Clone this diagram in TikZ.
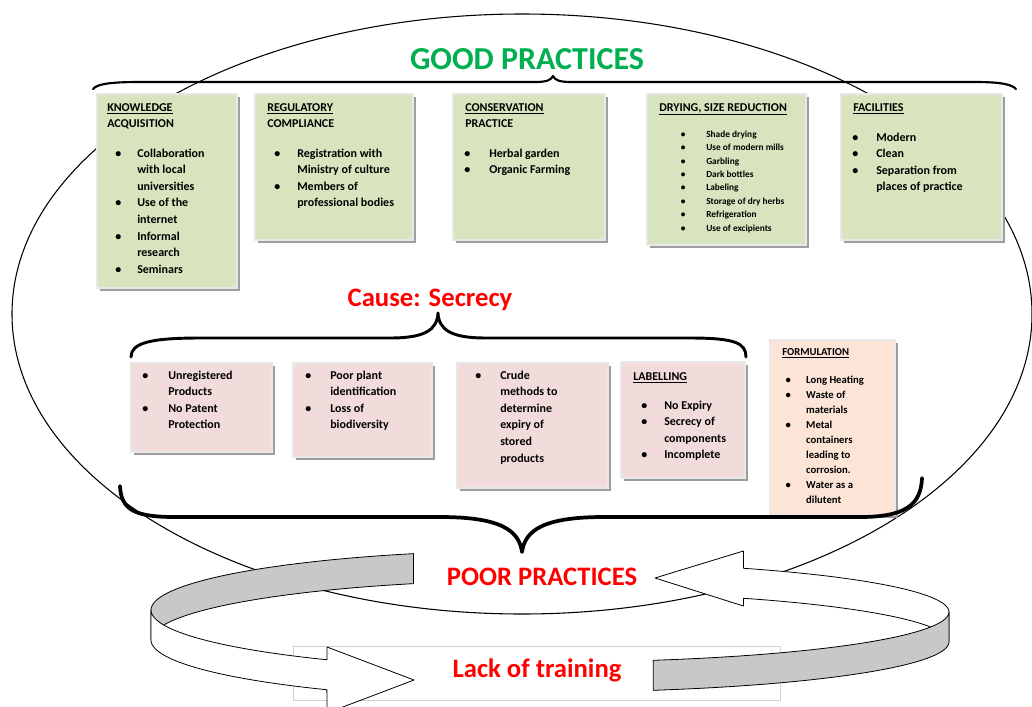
\documentclass[tikz,border=0pt]{standalone}
\usepackage{fontspec}
\setmainfont{Carlito}
\definecolor{gfill}{HTML}{D7E4BD}
\definecolor{pfill}{HTML}{F2DCDB}
\definecolor{ofill}{HTML}{FCE4D6}
\definecolor{goodgreen}{HTML}{00B050}
\definecolor{ribgray}{HTML}{C8C8C8}
\def\bwd{18pt}
\newcommand\bu{\makebox[\bwd][l]{\textbullet}}
\newcommand\nb{\hspace*{\bwd}}
\newcommand\mystrut{\rule{0pt}{7pt}}
\newcommand\smstrut{\rule{0pt}{5.5pt}}
\newcommand\mdstrut{\rule{0pt}{6.2pt}}
\newcommand\pbox[5]{%
  \fill[black!38] ({#1+3},{#2+3}) rectangle ({#3+3},{#4+3});
  \filldraw[fill=#5, draw=black!9, line width=1.5pt] (#1,#2) rectangle (#3,#4);}
\begin{document}
\begin{tikzpicture}[x=0.75pt,y=-0.75pt,
  bw/.code={\def\bwd{#1}},
  lst/.style={anchor=north west, inner sep=0pt, align=left, font=\fontsize{9pt}{12.45pt}\selectfont\bfseries},
  smlst/.style={anchor=north west, inner sep=0pt, align=left, font=\fontsize{7pt}{10.05pt}\selectfont\bfseries},
  mdlst/.style={anchor=north west, inner sep=0pt, align=left, font=\fontsize{8pt}{11.25pt}\selectfont\bfseries},
  bigtitle/.style={anchor=base, inner sep=0pt, font=\fontsize{24pt}{28pt}\selectfont\bfseries},
  redtitle/.style={anchor=base, inner sep=0pt, text=red, font=\fontsize{20pt}{24pt}\selectfont\bfseries},
  brace/.style={draw=black, line cap=round, line join=round},
  rib/.style={draw=black, line width=0.6pt, line join=round}]
\useasboundingbox (0,0) rectangle (1032,707);
\fill[white] (0,0) rectangle (1032,707);

% big ellipse
\draw[line width=0.8pt] (522,314) ellipse [x radius=510, y radius=300];

% good practice boxes
\pbox{97}{94}{237}{288}{gfill}
\pbox{255}{94}{413}{240}{gfill}
\pbox{453}{94}{605}{240}{gfill}
\pbox{647}{94}{806}{245}{gfill}
\pbox{841}{94}{1002}{240}{gfill}
% poor practice boxes
\pbox{131}{363}{272}{452}{pfill}
\pbox{293}{363}{432}{457}{pfill}
\pbox{457}{363}{608}{488}{pfill}
\pbox{621}{362}{745}{478}{pfill}
\pbox{770}{340}{895}{515}{ofill}

% braces
\draw[brace, line width=1.6pt] (93,89) .. controls (97,84) and (110,82) .. (140,82) -- (535,82)
  .. controls (547,82) and (551,80) .. (553,76) .. controls (555,80) and (559,82) .. (571,82)
  -- (975,82) .. controls (1004,82) and (1012,85) .. (1016,89);
\draw[brace, line width=2.2pt] (131,357) .. controls (131,343) and (150,338) .. (200,338) -- (390,338)
  .. controls (425,338) and (437,330) .. (438,313) .. controls (439,330) and (451,338) .. (486,338)
  -- (690,338) .. controls (735,338) and (746,343) .. (746,357);
\draw[brace, line width=2.8pt] (120,486) .. controls (121,510) and (135,517) .. (175,517) -- (440,517)
  .. controls (500,517) and (519,530) .. (522,552) .. controls (525,530) and (544,517) .. (604,517)
  -- (860,517) .. controls (905,517) and (921,505) .. (922,478);

% titles
\node[bigtitle, text=goodgreen] (good) at (527,69) {GOOD PRACTICES};
\node[redtitle] (cause) at (430,306) {Cause: Secrecy};

% box texts
\node[lst] (h1) at (107,101.5) {\mystrut\underline{KNOWLEDGE}\\ACQUISITION};
\node[lst, bw=16.5pt] (l1) at (115,147.5) {\mystrut\bu Collaboration\\\nb with local\\\nb universities\\\bu Use of the\\\nb internet\\\bu Informal\\\nb research\\\bu Seminars};
\node[lst] (h2) at (267,101.5) {\mystrut\underline{REGULATORY}\\COMPLIANCE};
\node[lst, bw=17.25pt] (l2) at (274,147.5) {\mystrut\bu Registration with\\\nb Ministry of culture\\\bu Members of\\\nb professional bodies};
\node[lst] (h3) at (465,101.5) {\mystrut\underline{CONSERVATION}\\PRACTICE};
\node[lst, bw=18.75pt] (l3) at (464,147.5) {\mystrut\bu Herbal garden\\\bu Organic Farming};
\node[lst] (h4) at (659,101.5) {\mystrut\underline{DRYING, SIZE REDUCTION}};
\node[smlst, bw=19pt] (l4) at (680.7,129.7) {\smstrut\bu Shade drying\\\bu Use of modern mills\\\bu Garbling\\\bu Dark bottles\\\bu Labeling\\\bu Storage of dry herbs\\\bu Refrigeration\\\bu Use of excipients};
\node[lst] (h5) at (853,101.5) {\mystrut\underline{FACILITIES}};
\node[lst, bw=18pt] (l5) at (852,131.5) {\mystrut\bu Modern\\\bu Clean\\\bu Separation from\\\nb places of practice};

\node[lst, bw=19.5pt] (p1) at (142,369.5) {\mystrut\bu Unregistered\\\nb Products\\\bu No Patent\\\nb Protection};
\node[lst, bw=18.75pt] (p2) at (305,369.5) {\mystrut\bu Poor plant\\\nb identification\\\bu Loss of\\\nb biodiversity};
\node[lst, bw=18.75pt] (p3) at (475,369.5) {\mystrut\bu Crude\\\nb methods to\\\nb determine\\\nb expiry of\\\nb stored\\\nb products};
\node[lst] (h9) at (633,370.5) {\mystrut\underline{LABELLING}};
\node[lst, bw=17.25pt] (p4) at (641,399.5) {\mystrut\bu No Expiry\\\bu Secrecy of\\\nb components\\\bu Incomplete};
\node[mdlst] (h10) at (782,347.2) {\mdstrut\underline{FORMULATION}};
\node[mdlst, bw=15.5pt] (p5) at (785.3,375.2) {\mdstrut\bu Long Heating\\\bu Waste of\\\nb materials\\\bu Metal\\\nb containers\\\nb leading to\\\nb corrosion.\\\bu Water as a\\\nb dilutent};

% lack of training frame
\filldraw[fill=white, draw=black!18, line width=0.6pt] (293,646) rectangle (780,700);

% ribbon arrow 1 (top-left grey, bottom-left white)
\filldraw[rib, fill=ribgray]
  plot[domain=250:180, samples=30] ({550+399*cos(\x)},{610+60*sin(\x)})
  -- plot[domain=180:250, samples=30] ({550+399*cos(\x)},{640+60*sin(\x)}) -- cycle;
\filldraw[rib, fill=white]
  plot[domain=180:124, samples=30] ({550+399*cos(\x)},{610+60*sin(\x)})
  -- (327,647) -- (414,680) -- (327,713)
  -- plot[domain=124:180, samples=30] ({550+399*cos(\x)},{640+60*sin(\x)}) -- cycle;
% ribbon arrow 2 (top-right white, bottom-right grey)
\filldraw[rib, fill=white]
  (655,578) -- (743.4,551)
  -- plot[domain=-61:0, samples=30] ({550+399*cos(\x)},{612+50*sin(\x)})
  -- plot[domain=0:-61, samples=30] ({550+399*cos(\x)},{642+50*sin(\x)})
  -- (743.4,606) -- cycle;
\filldraw[rib, fill=ribgray]
  plot[domain=0:75, samples=30] ({550+399*cos(\x)},{612+50*sin(\x)})
  -- plot[domain=75:0, samples=30] ({550+399*cos(\x)},{642+50*sin(\x)}) -- cycle;

\node[redtitle] (poor) at (542,585) {POOR PRACTICES};
\node[redtitle] (lack) at (537,677) {Lack of training};
\end{tikzpicture}
\end{document}
